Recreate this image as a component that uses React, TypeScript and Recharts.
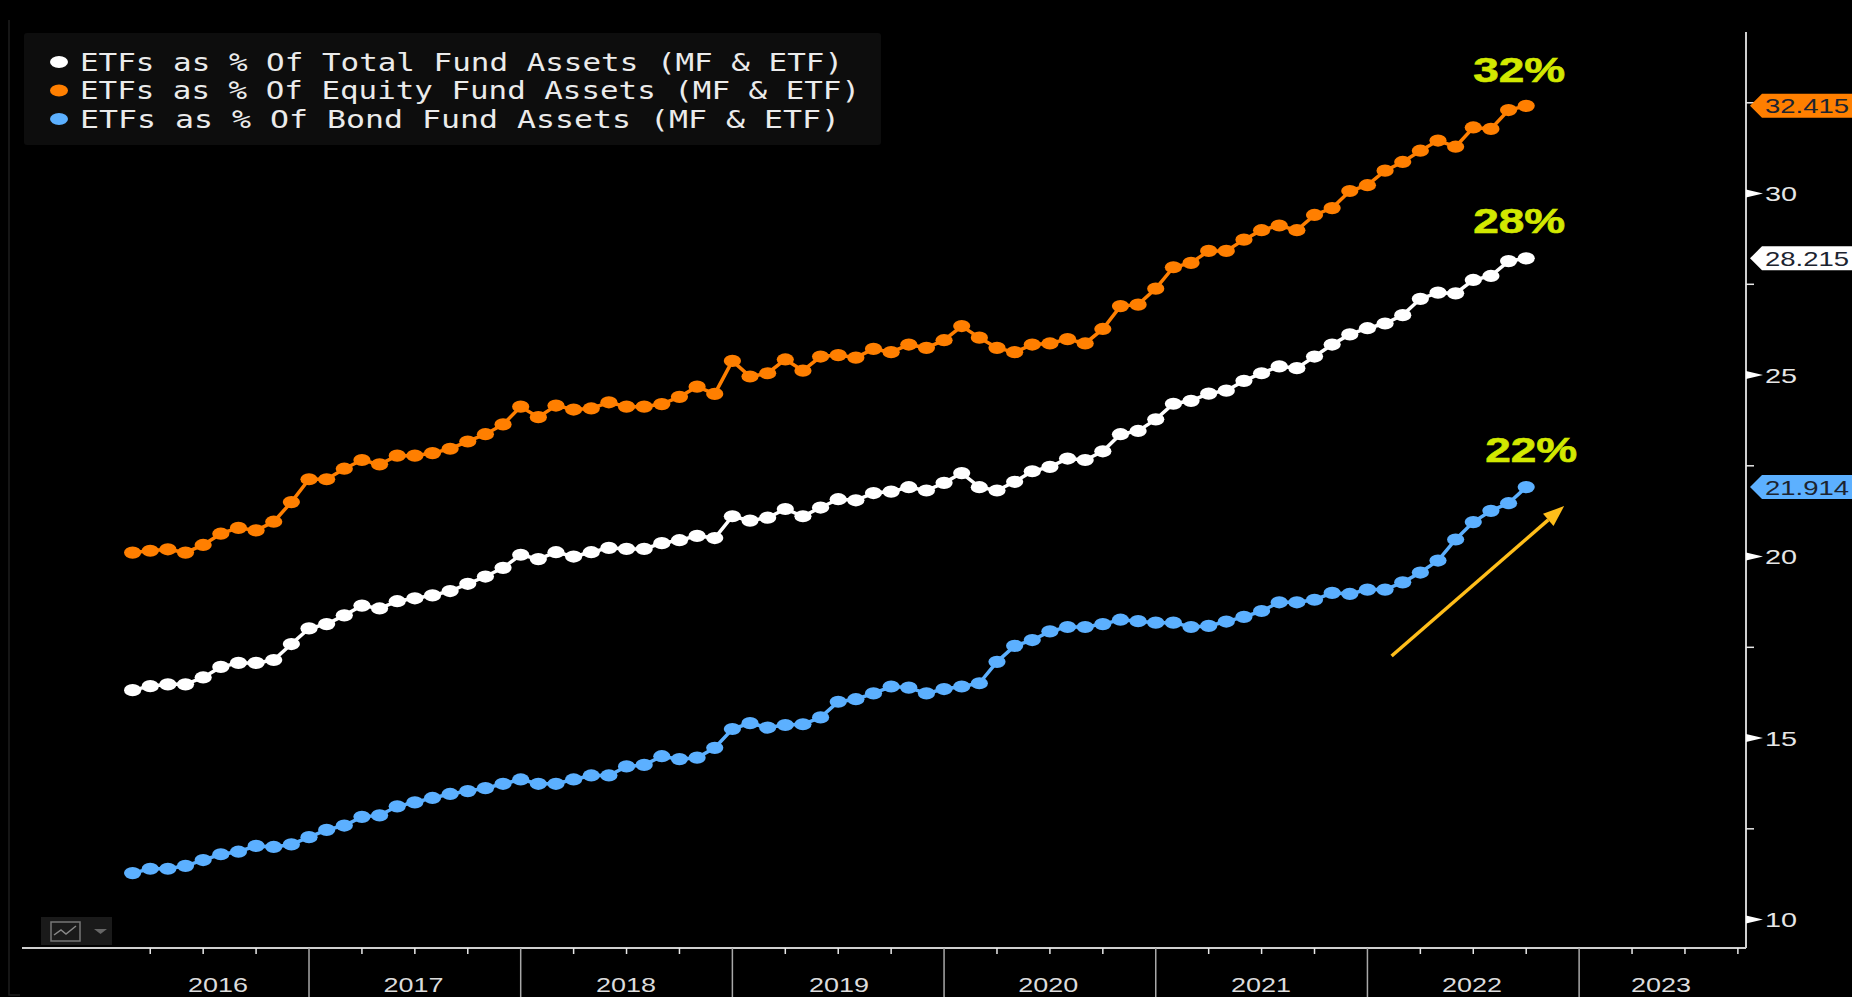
import { LineChart, Line, XAxis, YAxis, Legend, ReferenceDot, ReferenceLine } from "recharts";

// months counted from Jan 2016, first point is Mar 2016
const FIRST_MONTH = 2;

const totalFunds = [
  16.32, 16.43, 16.48, 16.48, 16.67, 16.96, 17.07, 17.07, 17.15, 17.59,
  18.02, 18.14, 18.38, 18.65, 18.57, 18.77, 18.85, 18.93, 19.05, 19.25,
  19.45, 19.69, 20.05, 19.93, 20.12, 20.0, 20.12, 20.24, 20.21, 20.21,
  20.37, 20.45, 20.57, 20.51, 21.11, 20.99, 21.07, 21.31, 21.11, 21.35,
  21.58, 21.55, 21.75, 21.79, 21.91, 21.82, 22.03, 22.3, 21.91, 21.82,
  22.06, 22.35, 22.47, 22.7, 22.66, 22.9, 23.37, 23.46, 23.78, 24.21,
  24.29, 24.49, 24.57, 24.84, 25.05, 25.24, 25.19, 25.51, 25.84, 26.12,
  26.29, 26.42, 26.65, 27.1, 27.27, 27.25, 27.62, 27.73, 28.14, 28.215,
];

const equityFunds = [
  20.11, 20.16, 20.2, 20.11, 20.32, 20.63, 20.79, 20.72, 20.96, 21.5,
  22.13, 22.13, 22.42, 22.66, 22.54, 22.78, 22.78, 22.85, 22.97, 23.17,
  23.37, 23.64, 24.13, 23.84, 24.16, 24.05, 24.08, 24.25, 24.13, 24.13,
  24.2, 24.4, 24.68, 24.48, 25.39, 24.96, 25.05, 25.43, 25.12, 25.51,
  25.55, 25.48, 25.72, 25.63, 25.84, 25.75, 25.96, 26.35, 26.03, 25.75,
  25.63, 25.84, 25.87, 25.99, 25.87, 26.27, 26.9, 26.94, 27.38, 27.97,
  28.09, 28.42, 28.42, 28.73, 28.99, 29.12, 28.99, 29.41, 29.6, 30.07,
  30.23, 30.63, 30.87, 31.18, 31.46, 31.29, 31.82, 31.78, 32.3, 32.415,
];

const bondFunds = [
  11.28, 11.4, 11.4, 11.48, 11.64, 11.8, 11.87, 12.03, 12.0, 12.07,
  12.27, 12.47, 12.59, 12.83, 12.87, 13.12, 13.23, 13.35, 13.46, 13.54,
  13.62, 13.74, 13.86, 13.74, 13.74, 13.86, 13.97, 13.97, 14.22, 14.26,
  14.5, 14.42, 14.46, 14.73, 15.25, 15.41, 15.29, 15.36, 15.38, 15.57,
  16.0, 16.07, 16.23, 16.42, 16.39, 16.23, 16.35, 16.42, 16.51, 17.1,
  17.54, 17.7, 17.94, 18.06, 18.06, 18.14, 18.26, 18.22, 18.18, 18.18,
  18.06, 18.09, 18.21, 18.34, 18.5, 18.74, 18.74, 18.81, 19.0, 18.97,
  19.09, 19.09, 19.29, 19.56, 19.89, 20.47, 20.95, 21.26, 21.47, 21.914,
];

const seriesNames = [
  "ETFs as % Of Total Fund Assets (MF & ETF)",
  "ETFs as % Of Equity Fund Assets (MF & ETF)",
  "ETFs as % Of Bond Fund Assets (MF & ETF)",
];

const yearLabels = ["2016", "2017", "2018", "2019", "2020", "2021", "2022", "2023"];
const yearLabelMonths = [6.84, 17.92, 29.97, 42.05, 53.9, 65.97, 77.93, 88.64];
const quarterMonths = [
  3, 6, 9, 12, 15, 18, 21, 24, 27, 30, 33, 36, 39, 42, 45, 48, 51, 54, 57, 60,
  63, 66, 69, 72, 75, 78, 81, 84, 87, 90, 93,
];

const yMinor = [12.5, 17.5, 22.5, 27.5, 32.5];
const yMajor = [10, 15, 20, 25, 30];
const lastValues = [32.415, 28.215, 21.914];
const lastValueColors = ["#ff7f00", "#ffffff", "#5cb0ff"];

const callouts = [
  { month: 81, value: 33.42, text: "32%", dx: -7 },
  { month: 81, value: 29.27, text: "28%", dx: -7 },
  { month: 81, value: 22.95, text: "22%", dx: 5 },
];

const data = totalFunds.map((v, i) => ({
  month: FIRST_MONTH + i,
  total: v,
  equity: equityFunds[i],
  bond: bondFunds[i],
}));

const legendWidths = [763, 780, 760];

const EllipseDot = (props: any) => {
  const { cx, cy, stroke, index } = props;
  return <ellipse key={index} cx={cx} cy={cy} rx={8.6} ry={6.1} fill={stroke} />;
};

const YTick = ({ x, y, payload }: any) => {
  const v = payload.value;
  const tag = lastValues.indexOf(v);
  if (tag >= 0) {
    return (
      <g>
        <polygon
          points={`${x + 4},${y} ${x + 16},${y - 12} ${x + 120},${y - 12} ${x + 120},${y + 12} ${x + 16},${y + 12}`}
          fill={lastValueColors[tag]}
        />
        <text x={x + 19} y={y + 7.5} fontFamily="Liberation Sans" fontSize={21} fill="#1c2430" textLength={84} lengthAdjust="spacingAndGlyphs">
          {v.toFixed(3)}
        </text>
      </g>
    );
  }
  if (yMinor.includes(v)) {
    return <line x1={x} x2={x + 8} y1={y} y2={y} stroke="#e8e8e8" strokeWidth={1.5} />;
  }
  return (
    <g>
      <polygon points={`${x},${y - 4} ${x + 17},${y} ${x},${y + 4}`} fill="#ffffff" />
      <text x={x + 19} y={y + 7.5} fontFamily="Liberation Sans" fontSize={21} fill="#e6e6e6" textLength={32} lengthAdjust="spacingAndGlyphs">
        {v}
      </text>
    </g>
  );
};

const XTick = ({ x, y, payload }: any) => {
  const v = payload.value;
  const label = yearLabelMonths.indexOf(v);
  if (label >= 0) {
    return (
      <text x={x} y={y + 44} textAnchor="middle" fontFamily="Liberation Sans" fontSize={21} fill="#dcdcdc" textLength={60} lengthAdjust="spacingAndGlyphs">
        {yearLabels[label]}
      </text>
    );
  }
  if (v % 12 === 0) {
    return <line x1={x} x2={x} y1={y} y2={y + 49} stroke="#a8a8a8" strokeWidth={1.5} />;
  }
  return <line x1={x} x2={x} y1={y} y2={y + 6} stroke="#e8e8e8" strokeWidth={1.5} />;
};

const FundLegend = ({ payload }: any) => (
  <svg width={857} height={112} style={{ display: "block" }}>
    <rect width={857} height={112} rx={3} fill="#0d0d0d" />
    {(payload || []).map((entry: any, i: number) => (
      <g key={entry.value}>
        <ellipse cx={35} cy={29 + i * 28.5} rx={9} ry={6} fill={entry.color} />
        <text x={56} y={37.5 + i * 28.5} fontFamily="DejaVu Sans Mono" fontSize={24} fill="#ebebeb" textLength={legendWidths[i]} lengthAdjust="spacingAndGlyphs">
          {entry.value}
        </text>
      </g>
    ))}
  </svg>
);

const Callout = ({ cx, cy, text, dx }: any) => (
  <text x={cx + dx} y={cy + 12.5} textAnchor="middle" fontFamily="Liberation Sans" fontWeight="bold" fontSize={35} fill="#d2e800" stroke="#d2e800" strokeWidth={0.6} textLength={92} lengthAdjust="spacingAndGlyphs">
    {text}
  </text>
);

const Arrow = ({ x1, y1, x2, y2 }: any) => {
  const a = Math.atan2(y2 - y1, x2 - x1);
  const len = 21;
  const wing = 8;
  const bx = x2 - Math.cos(a) * len;
  const by = y2 - Math.sin(a) * len;
  const nx = -Math.sin(a) * wing;
  const ny = Math.cos(a) * wing;
  return (
    <g>
      <line x1={x1} y1={y1} x2={bx} y2={by} stroke="#ffbe1a" strokeWidth={3.5} />
      <polygon points={`${x2},${y2} ${bx + nx},${by + ny} ${bx - nx},${by - ny}`} fill="#ffbe1a" />
    </g>
  );
};

export default function App() {
  return (
    <div style={{ position: "absolute", left: 0, top: 0, width: 1852, height: 997, background: "#000", overflow: "hidden" }}>
      <LineChart width={1852} height={997} data={data} margin={{ top: 32, right: 0, bottom: 0, left: 22 }}>
        <XAxis
          dataKey="month"
          type="number"
          domain={[-4.27, 93.46]}
          allowDataOverflow
          ticks={[...quarterMonths, ...yearLabelMonths]}
          interval={0}
          tick={<XTick />}
          tickLine={false}
          tickSize={0}
          tickMargin={0}
          height={49}
          axisLine={{ stroke: "#cfcfcf", strokeWidth: 2 }}
        />
        <YAxis
          orientation="right"
          type="number"
          domain={[9.217, 34.45]}
          allowDataOverflow
          ticks={[...yMinor, ...yMajor, ...lastValues]}
          interval={0}
          tick={<YTick />}
          tickLine={false}
          tickSize={0}
          tickMargin={0}
          width={106}
          axisLine={{ stroke: "#cfcfcf", strokeWidth: 2 }}
        />
        <Legend
          layout="horizontal"
          align="center"
          verticalAlign="middle"
          itemSorter={null}
          content={<FundLegend />}
          wrapperStyle={{ left: 24, top: 33, width: 857, height: 112 }}
        />
        <Line dataKey="total" name={seriesNames[0]} stroke="#ffffff" strokeWidth={3.5} dot={<EllipseDot />} isAnimationActive={false} />
        <Line dataKey="equity" name={seriesNames[1]} stroke="#ff7f00" strokeWidth={3.5} dot={<EllipseDot />} isAnimationActive={false} />
        <Line dataKey="bond" name={seriesNames[2]} stroke="#5cb0ff" strokeWidth={3.5} dot={<EllipseDot />} isAnimationActive={false} />
        {callouts.map((c) => (
          <ReferenceDot key={c.text} x={c.month} y={c.value} shape={(p: any) => <Callout {...p} text={c.text} dx={c.dx} />} />
        ))}
        <ReferenceLine
          segment={[{ x: 73.37, y: 17.26 }, { x: 83.15, y: 21.39 }]}
          shape={<Arrow />}
        />
      </LineChart>
      <svg width={1852} height={997} style={{ position: "absolute", left: 0, top: 0, pointerEvents: "none" }}>
        <path d="M9 20V995H20" fill="none" stroke="#1e1e1e" strokeWidth={1.5} />
        <rect x={41} y={917} width={71} height={28} fill="#1a1a1a" />
        <rect x={51} y={922} width={29} height={19} fill="none" stroke="#777" strokeWidth={1.5} />
        <path d="M54 935L61 930L66 934L76 926" fill="none" stroke="#888" strokeWidth={1.5} />
        <path d="M94 929H107L100.5 934Z" fill="#666" />
      </svg>
    </div>
  );
}
